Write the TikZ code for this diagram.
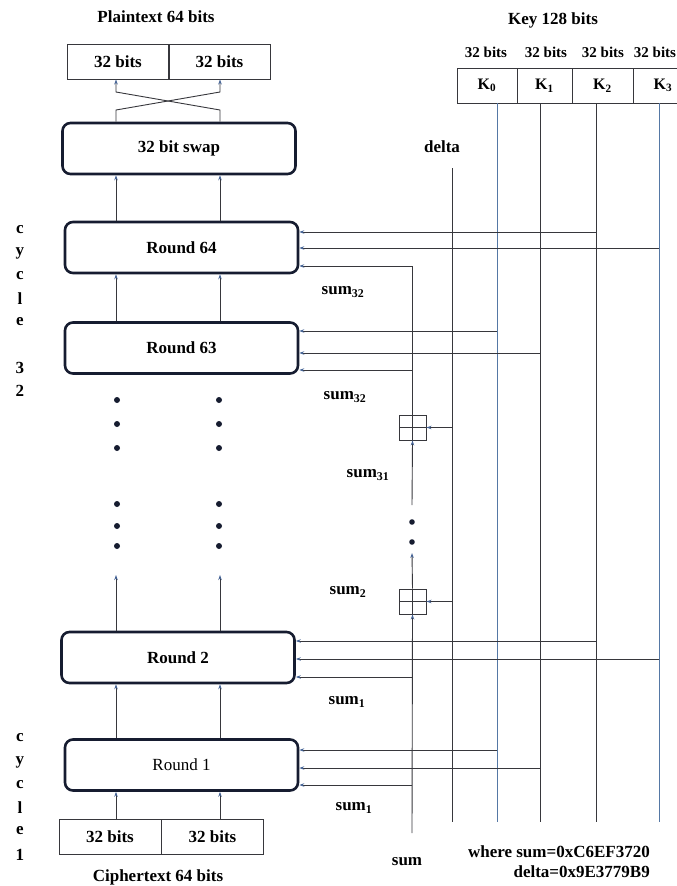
\documentclass[tikz,border=0pt]{standalone}
\usepackage{fontspec}
\setmainfont{Liberation Serif}
\usetikzlibrary{arrows.meta}
\definecolor{boxNavy}{RGB}{22, 28, 48}
\definecolor{lineGray}{RGB}{55, 55, 60}
\definecolor{keyBlue}{RGB}{85, 120, 165}
\definecolor{tipBlue}{RGB}{70, 100, 150}

\begin{document}
\begin{tikzpicture}[
    x=1pt, y=-1pt,
    lbl/.style={inner sep=0pt, font=\fontsize{17}{20}\selectfont\bfseries},
    halfbox/.style={rectangle, draw=lineGray, line width=0.9pt,
                    minimum width=102pt, minimum height=35pt, inner sep=0pt,
                    font=\fontsize{17}{20}\selectfont\bfseries},
    keycell/.style={rectangle, draw=lineGray, line width=0.9pt,
                    minimum height=35pt, inner sep=0pt,
                    font=\fontsize{16}{19}\selectfont\bfseries},
    roundbox/.style={rectangle, draw=boxNavy, line width=2.6pt, rounded corners=8pt,
                     minimum width=233pt, minimum height=51pt, inner sep=0pt,
                     font=\fontsize{17}{20}\selectfont\bfseries},
    adder/.style={rectangle, draw=lineGray, line width=0.9pt,
                  minimum width=27pt, minimum height=25pt, inner sep=0pt,
                  path picture={\draw[lineGray, line width=0.9pt]
                    (path picture bounding box.north) -- (path picture bounding box.south)
                    (path picture bounding box.west) -- (path picture bounding box.east);}},
    wire/.style={draw=lineGray, line width=0.9pt},
    arr/.style={wire, -{Stealth[length=5pt, width=3.5pt, tipBlue]}},
  ]
    \useasboundingbox (0,0) rectangle (677,886);
    \clip (0,0) rectangle (677,886);

    % Left column: plaintext, swap and rounds
    \node[lbl] (ptTitle) at (156,17) {Plaintext 64 bits};
    \node[halfbox] (P1) at (118,61.5) {32 bits};
    \node[halfbox] (P2) at (219.5,61.5) {32 bits};
    \node[roundbox] (SW) at (179,148.5) {32 bit swap};
    \node[roundbox] (R64) at (181.5,247.5) {Round 64};
    \node[roundbox] (R63) at (181.5,348) {Round 63};
    \node[roundbox] (R2) at (178,657.5) {Round 2};
    \node[roundbox, font=\fontsize{17}{20}\selectfont] (R1) at (181.5,765) {Round 1};
    \node[halfbox] (C1) at (110,836.5) {32 bits};
    \node[halfbox] (C2) at (212.5,836.5) {32 bits};
    \node[lbl] (ctTitle) at (158,877) {Ciphertext 64 bits};

    \coordinate (cl) at (116,0);
    \coordinate (cr) at (220,0);
    \coordinate (dl) at (116,575);
    \coordinate (dr) at (220,575);

    % swap crossing
    \draw[arr] (SW.north -| cl) -- (116,110) -- (220,92) -- (P2.south -| cr);
    \draw[arr] (SW.north -| cr) -- (220,110) -- (116,92) -- (P1.south -| cl);

    % data path between rounds
    \foreach \c in {cl,cr} {
      \draw[arr] (R64.north -| \c) -- (SW.south -| \c);
      \draw[arr] (R63.north -| \c) -- (R64.south -| \c);
      \draw[arr] (R1.north -| \c) -- (R2.south -| \c);
      \draw[arr] (C1.north -| \c) -- (R1.south -| \c);
    }
    \draw[arr] (R2.north -| cl) -- (dl);
    \draw[arr] (R2.north -| cr) -- (dr);

    % omitted rounds
    \foreach \xx in {117,219}
      \foreach \yy in {400,424,448,504,526,546}
        \fill[boxNavy] (\xx,\yy) circle (3pt);

    % cycle labels
    \foreach \ch/\yy in {c/230,y/253,c/276,l/299,e/322,3/368,2/391}
      \node[lbl] (cyA\yy) at (20,\yy) {\ch};
    \foreach \ch/\yy in {c/738,y/762,c/785,l/808,e/831,1/855}
      \node[lbl] (cyB\yy) at (20,\yy) {\ch};

    % Right: key words
    \node[lbl] (keyTitle) at (553,20) {Key 128 bits};
    \foreach \k/\xx in {0/486,1/546,2/603,3/655}
      \node[lbl, font=\fontsize{15}{18}\selectfont\bfseries] (kb\k) at (\xx,52) {32 bits};
    \node[keycell, minimum width=60pt] (K0) at (487,85.5) {K\textsubscript{0}};
    \node[keycell, minimum width=55pt] (K1) at (544.5,85.5) {K\textsubscript{1}};
    \node[keycell, minimum width=61pt] (K2) at (602.5,85.5) {K\textsubscript{2}};
    \node[keycell, minimum width=60pt] (K3) at (663,85.5) {K\textsubscript{3}};

    \coordinate (kl0) at (497,822);
    \coordinate (kl1) at (540,822);
    \coordinate (kl2) at (596,822);
    \coordinate (kl3) at (659,822);
    \draw[wire, draw=keyBlue] (K0.south -| kl0) -- (kl0);
    \draw[wire] (K1.south -| kl1) -- (kl1);
    \draw[wire] (K2.south -| kl2) -- (kl2);
    \draw[wire, draw=keyBlue] (K3.south -| kl3) -- (kl3);

    % delta
    \node[lbl] (delta) at (442,147) {delta};
    \coordinate (dTop) at (452,168);
    \coordinate (dBot) at (452,822);
    \draw[wire] (dTop) -- (dBot);

    % sum chain
    \coordinate (sl) at (412,0);
    \coordinate (s0) at (412,833);
    \coordinate (sDot) at (412,553);
    \coordinate (sMid) at (412,505);
    \node[adder] (A1) at (412.5,427.5) {};
    \node[adder] (A2) at (412.5,601.5) {};
    \draw[arr] (s0) -- (A2.south);
    \draw[arr] (A2.north) -- (sDot);
    \foreach \yy in {522,542}
      \fill[boxNavy] (412,\yy) circle (2.8pt);
    \draw[arr] (sMid) -- (A1.south);
    \draw[arr] (A1.east -| dTop) -- (A1.east);
    \draw[arr] (A2.east -| dTop) -- (A2.east);

    % round inputs: key words
    \foreach \b/\dy/\src in {R64/15.5/kl2, R64/-0.5/kl3, R63/17/kl0, R63/-5/kl1,
                             R2/16.5/kl2, R2/-1.5/kl3, R1/15/kl0, R1/-3/kl1} {
      \path ([yshift=\dy pt]\b.east) coordinate (tmp);
      \draw[arr] (tmp -| \src) -- (tmp);
    }
    % round inputs: sum
    \path ([yshift=-18.5pt]R64.east) coordinate (r64s);
    \draw[arr] (A1.north) |- (r64s);
    \foreach \b/\dy in {R63/-22, R2/-19.5, R1/-20} {
      \path ([yshift=\dy pt]\b.east) coordinate (tmp);
      \draw[arr] (tmp -| sl) -- (tmp);
    }

    % sum labels
    \node[lbl] (s32a) at (343,292) {sum\textsubscript{32}};
    \node[lbl] (s32b) at (345,397) {sum\textsubscript{32}};
    \node[lbl] (s31) at (368,475) {sum\textsubscript{31}};
    \node[lbl] (s2) at (348,592) {sum\textsubscript{2}};
    \node[lbl] (s1a) at (347,702) {sum\textsubscript{1}};
    \node[lbl] (s1b) at (354,808) {sum\textsubscript{1}};
    \node[lbl] (sumIn) at (407,862) {sum};
    \node[lbl, anchor=east] (wsum) at (650,852) {where sum=0xC6EF3720};
    \node[lbl, anchor=east] (wdelta) at (650,872) {delta=0x9E3779B9};
  \end{tikzpicture}
\end{document}
